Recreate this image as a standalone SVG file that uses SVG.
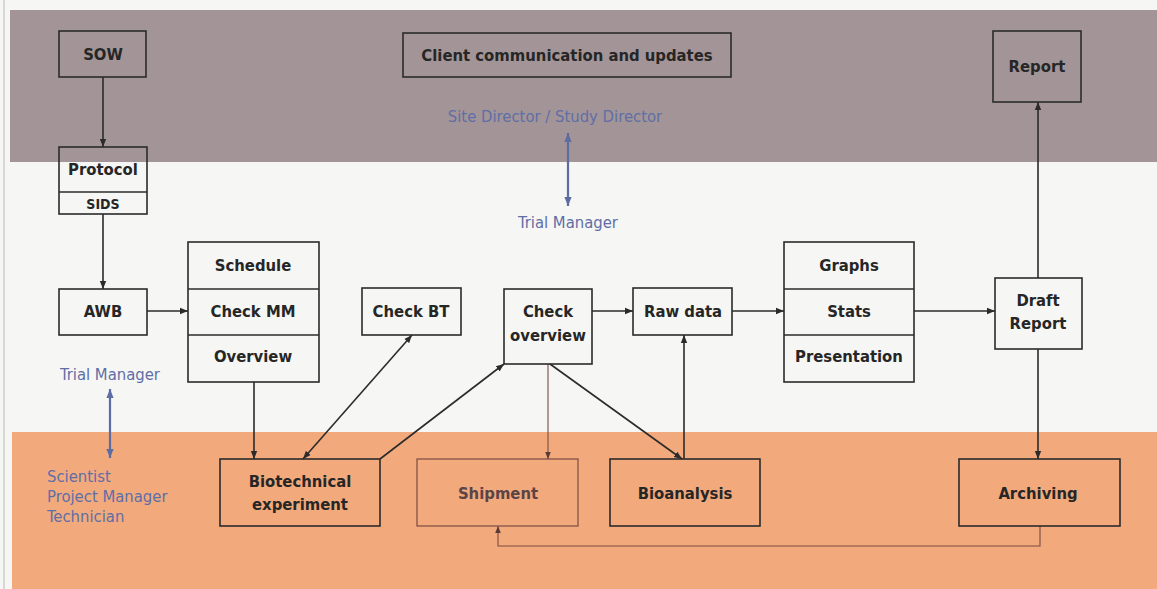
<svg xmlns="http://www.w3.org/2000/svg" width="1157" height="589" viewBox="0 0 1157 589">
<style>
.bg{fill:#f6f6f4}
.band-top{fill:#a39597}
.band-bot{fill:#f2aa7d}
.box{fill:none;stroke:#2b2b2b;stroke-width:1.6}
.boxs{fill:none;stroke:#7a4a42;stroke-width:1.2}
.t{font-family:"DejaVu Sans Condensed","DejaVu Sans",sans-serif;font-stretch:condensed;font-size:16.5px;font-weight:bold;fill:#262626;text-anchor:middle}
.ts{font-family:"DejaVu Sans Condensed","DejaVu Sans",sans-serif;font-stretch:condensed;font-size:14px;font-weight:bold;fill:#262626;text-anchor:middle}
.tship{fill:#5a4446}
.role{font-family:"DejaVu Sans Condensed","DejaVu Sans",sans-serif;font-stretch:condensed;font-size:16.5px;fill:#5f6ea6}
.c{fill:none;stroke:#2b2b2b;stroke-width:1.6}
.cs{fill:none;stroke:#7a4a42;stroke-width:1.1}
.cb{fill:none;stroke:#5d6ca3;stroke-width:2.2}
</style>
<defs>
<marker id="ah" viewBox="0 0 10 10" refX="10" refY="5" markerWidth="8" markerHeight="8" markerUnits="userSpaceOnUse" orient="auto-start-reverse"><path d="M0,1 L10,5 L0,9 z" fill="#2b2b2b"/></marker>
<marker id="ahs" viewBox="0 0 10 10" refX="10" refY="5" markerWidth="7" markerHeight="7" markerUnits="userSpaceOnUse" orient="auto-start-reverse"><path d="M0,1 L10,5 L0,9 z" fill="#5a3a34"/></marker>
<marker id="ahb" viewBox="0 0 10 10" refX="10" refY="5" markerWidth="9" markerHeight="9" markerUnits="userSpaceOnUse" orient="auto-start-reverse"><path d="M0,1 L10,5 L0,9 z" fill="#5d6ca3"/></marker>
</defs>

<g id="background">
<rect class="bg" x="0" y="0" width="1157" height="589"/>
<rect class="band-top" x="10" y="10" width="1147" height="152"/>
<rect class="band-bot" x="12" y="432" width="1145" height="157"/>
<line x1="4" y1="0" x2="4" y2="589" stroke="#b8b8b8" stroke-width="1"/>
</g>

<g id="roles">
<text class="role" x="555" y="122" text-anchor="middle">Site Director / Study Director</text>
<text class="role" x="568" y="228" text-anchor="middle">Trial Manager</text>
<text class="role" x="110" y="380" text-anchor="middle">Trial Manager</text>
<text class="role" x="47" y="482">Scientist</text>
<text class="role" x="47" y="502">Project Manager</text>
<text class="role" x="47" y="522">Technician</text>
<line class="cb" x1="568" y1="133" x2="568" y2="206" marker-start="url(#ahb)" marker-end="url(#ahb)"/>
<line class="cb" x1="110" y1="389" x2="110" y2="458" marker-start="url(#ahb)" marker-end="url(#ahb)"/>
</g>

<g id="connectors">
<line class="c" x1="103" y1="77" x2="103" y2="147" marker-end="url(#ah)"/>
<line class="c" x1="103" y1="214" x2="103" y2="289" marker-end="url(#ah)"/>
<line class="c" x1="147" y1="311" x2="188" y2="311" marker-end="url(#ah)"/>
<line class="c" x1="254" y1="382" x2="254" y2="459" marker-end="url(#ah)"/>
<line class="c" x1="303" y1="459" x2="412" y2="335" marker-start="url(#ah)" marker-end="url(#ah)"/>
<line class="c" x1="380" y1="459" x2="504" y2="364" marker-end="url(#ah)"/>
<line class="cs" x1="548" y1="364" x2="548" y2="459" marker-end="url(#ahs)"/>
<line class="c" x1="550" y1="364" x2="682" y2="459" marker-end="url(#ah)"/>
<line class="c" x1="684" y1="459" x2="684" y2="335" marker-end="url(#ah)"/>
<line class="c" x1="592" y1="311" x2="633" y2="311" marker-end="url(#ah)"/>
<line class="c" x1="732" y1="311" x2="784" y2="311" marker-end="url(#ah)"/>
<line class="c" x1="914" y1="311" x2="995" y2="311" marker-end="url(#ah)"/>
<line class="c" x1="1038" y1="278" x2="1038" y2="102" marker-end="url(#ah)"/>
<line class="c" x1="1038" y1="349" x2="1038" y2="459" marker-end="url(#ah)"/>
<polyline class="cs" points="1040,526 1040,546 498,546 498,526" marker-end="url(#ahs)"/>
</g>

<g id="sow"><rect class="box" x="59" y="31" width="87" height="46"/><text class="t" x="103" y="60">SOW</text></g>
<g id="client"><rect class="box" x="403" y="33" width="328" height="44"/><text class="t" x="567" y="61">Client communication and updates</text></g>
<g id="report"><rect class="box" x="993" y="31" width="88" height="71"/><text class="t" x="1037" y="72">Report</text></g>
<g id="protocol"><rect class="box" x="59" y="147" width="88" height="67"/><line class="box" x1="59" y1="192" x2="147" y2="192"/><text class="t" x="103" y="175">Protocol</text><text class="ts" x="103" y="209">SIDS</text></g>
<g id="awb"><rect class="box" x="59" y="289" width="88" height="46"/><text class="t" x="103" y="317">AWB</text></g>
<g id="schedule-stack"><rect class="box" x="188" y="242" width="131" height="140"/><line class="box" x1="188" y1="289" x2="319" y2="289"/><line class="box" x1="188" y1="335" x2="319" y2="335"/><text class="t" x="253" y="271">Schedule</text><text class="t" x="253" y="317">Check MM</text><text class="t" x="253" y="362">Overview</text></g>
<g id="check-bt"><rect class="box" x="362" y="288" width="99" height="47"/><text class="t" x="411" y="317">Check BT</text></g>
<g id="check-overview"><rect class="box" x="504" y="289" width="88" height="75"/><text class="t" x="548" y="317">Check</text><text class="t" x="548" y="341">overview</text></g>
<g id="raw-data"><rect class="box" x="633" y="288" width="99" height="47"/><text class="t" x="683" y="317">Raw data</text></g>
<g id="graphs-stack"><rect class="box" x="784" y="242" width="130" height="140"/><line class="box" x1="784" y1="289" x2="914" y2="289"/><line class="box" x1="784" y1="335" x2="914" y2="335"/><text class="t" x="849" y="271">Graphs</text><text class="t" x="849" y="317">Stats</text><text class="t" x="849" y="362">Presentation</text></g>
<g id="draft-report"><rect class="box" x="995" y="278" width="87" height="71"/><text class="t" x="1038" y="306">Draft</text><text class="t" x="1038" y="329">Report</text></g>
<g id="biotechnical"><rect class="box" x="220" y="459" width="160" height="67"/><text class="t" x="300" y="487">Biotechnical</text><text class="t" x="300" y="510">experiment</text></g>
<g id="shipment"><rect class="boxs" x="417" y="459" width="161" height="67"/><text class="t tship" x="498" y="499">Shipment</text></g>
<g id="bioanalysis"><rect class="box" x="610" y="459" width="150" height="67"/><text class="t" x="685" y="499">Bioanalysis</text></g>
<g id="archiving"><rect class="box" x="959" y="459" width="161" height="67"/><text class="t" x="1038" y="499">Archiving</text></g>
</svg>
